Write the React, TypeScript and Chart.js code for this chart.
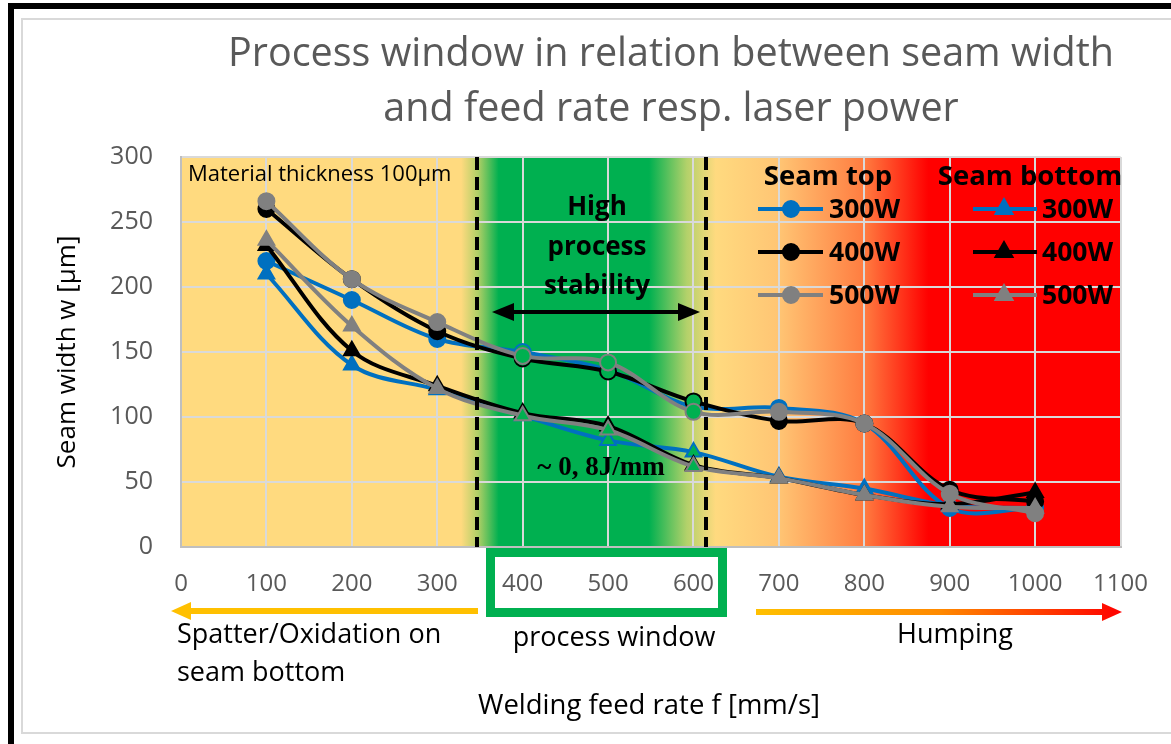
import React, { useEffect, useRef } from "react";
import { Chart, registerables } from "chart.js";

Chart.register(...registerables);

// ---------- data ----------
const feedRates = [100, 200, 300, 400, 500, 600, 700, 800, 900, 1000];
const topW300 = [220, 190, 160, 150, 136, 108, 107, 95, 30, 30];
const topW400 = [260, 206, 166, 145, 135, 112, 97, 95, 44, 35];
const topW500 = [266, 206, 173, 147, 142, 104, 104, 95, 41, 26];
const bottomW300 = [210, 140, 121, 101, 82, 73, 54, 45, 32, 30];
const bottomW400 = [232, 151, 124, 103, 93, 63, 53, 40, 33, 42];
const bottomW500 = [236, 170, 122, 101, 90, 62, 53, 40, 31, 30];
const powerLabels = ["300W", "400W", "500W"];

const titleLines = ["Process window in relation between seam width", "and feed rate resp. laser power"];
const xAxisTitle = "Welding feed rate f [mm/s]";
const yAxisTitle = "Seam width w [µm]";
const windowLimits = [346, 615];

// ---------- styles ----------
const BLUE = "#0070C0";
const BLACK = "#000000";
const GRAY = "#808080";
const GREEN = "#00B050";
const YELLOW = "#FFDA7F";
const seriesColors = [BLUE, BLACK, GRAY];
const FONT = "'Open Sans', 'Noto Sans', sans-serif";

const toPts = (ys: number[]) => feedRates.map((x, i) => ({ x, y: ys[i] }));

function makeDataset(label: string, ys: number[], color: string, marker: string, order: number) {
  return {
    label,
    data: toPts(ys),
    borderColor: color,
    borderWidth: 4,
    tension: 0.35,
    pointStyle: marker,
    pointRadius: marker === "triangle" ? 9 : 8,
    pointBorderWidth: 2,
    pointBorderColor: color,
    pointBackgroundColor: (ctx: any) => {
      const x = feedRates[ctx.dataIndex];
      return x >= 400 && x <= 600 ? GREEN : color;
    },
    order,
  };
}

function drawMarker(ctx: CanvasRenderingContext2D, type: string, x: number, y: number, color: string) {
  ctx.save();
  ctx.fillStyle = color;
  ctx.strokeStyle = color;
  ctx.lineWidth = 2;
  ctx.beginPath();
  if (type === "circle") {
    ctx.arc(x, y, 8, 0, Math.PI * 2);
  } else {
    const r = 9;
    ctx.moveTo(x, y - r * 1.1);
    ctx.lineTo(x + r * 0.95, y + r * 0.55);
    ctx.lineTo(x - r * 0.95, y + r * 0.55);
    ctx.closePath();
  }
  ctx.fill();
  ctx.stroke();
  ctx.restore();
}

function drawArrowLine(ctx: CanvasRenderingContext2D, x1: number, x2: number, y: number, w: number, head: number, half: number, style: any, both = false) {
  ctx.save();
  ctx.strokeStyle = style;
  ctx.fillStyle = style;
  ctx.lineWidth = w;
  const dir = Math.sign(x2 - x1);
  ctx.beginPath();
  ctx.moveTo(both ? x1 + dir * head * 0.8 : x1, y);
  ctx.lineTo(x2 - dir * head * 0.8, y);
  ctx.stroke();
  const heads = both ? [[x2, dir], [x1, -dir]] : [[x2, dir]];
  for (const [tip, d] of heads) {
    ctx.beginPath();
    ctx.moveTo(tip, y);
    ctx.lineTo(tip - d * head, y - half);
    ctx.lineTo(tip - d * head, y + half);
    ctx.closePath();
    ctx.fill();
  }
  ctx.restore();
}

function text(ctx: CanvasRenderingContext2D, s: string, x: number, y: number, font: string, color: string, align: CanvasTextAlign = "center") {
  ctx.save();
  ctx.font = font;
  ctx.fillStyle = color;
  ctx.textAlign = align;
  ctx.textBaseline = "middle";
  ctx.fillText(s, x, y);
  ctx.restore();
}

const decorPlugin = {
  id: "decor",
  beforeDraw(chart: any) {
    const { ctx, chartArea: a, scales } = chart;
    const xs = scales.x;
    ctx.save();
    ctx.fillStyle = "#FFFFFF";
    ctx.fillRect(0, 0, chart.width, chart.height);
    // frames
    ctx.fillStyle = "#000000";
    ctx.fillRect(8, 3, chart.width - 8, 6);
    ctx.fillRect(8, 3, 6, chart.height - 3);
    ctx.strokeStyle = "#D9D9D9";
    ctx.lineWidth = 2;
    ctx.beginPath();
    ctx.moveTo(chart.width, 19);
    ctx.lineTo(22, 19);
    ctx.lineTo(22, 733);
    ctx.lineTo(chart.width, 733);
    ctx.stroke();
    // background zones
    const g = ctx.createLinearGradient(a.left, 0, a.right, 0);
    const stop = (v: number, c: string) => {
      const t = (xs.getPixelForValue(v) - a.left) / (a.right - a.left);
      g.addColorStop(Math.min(1, Math.max(0, t)), c);
    };
    stop(0, YELLOW);
    stop(328, YELLOW);
    stop(348, "#AFCF66");
    stop(372, GREEN);
    stop(548, GREEN);
    stop(592, "#B2D16A");
    stop(626, YELLOW);
    stop(700, "#FFC574");
    stop(800, "#FF7C40");
    stop(875, "#FF0000");
    stop(1100, "#FF0000");
    ctx.fillStyle = g;
    ctx.fillRect(a.left, a.top, a.right - a.left, a.bottom - a.top);
    ctx.restore();
  },
  afterDatasetsDraw(chart: any) {
    const { ctx, chartArea: a, scales } = chart;
    const xs = scales.x;
    // dashed limits
    ctx.save();
    ctx.strokeStyle = "#000";
    ctx.lineWidth = 4;
    ctx.setLineDash([13, 7]);
    for (const v of windowLimits) {
      const px = Math.round(xs.getPixelForValue(v));
      ctx.beginPath();
      ctx.moveTo(px, a.top);
      ctx.lineTo(px, a.bottom);
      ctx.stroke();
    }
    ctx.restore();

    // title
    text(ctx, titleLines[0], 671, 55, `39.5px ${FONT}`, "#595959");
    text(ctx, titleLines[1], 671, 110, `39.5px ${FONT}`, "#595959");

    // in-plot labels
    text(ctx, "Material thickness 100µm", 188, 175, `22px ${FONT}`, "#000", "left");
    text(ctx, "High", 597, 208, `bold 26px ${FONT}`, "#000");
    text(ctx, "process", 597, 248, `bold 26px ${FONT}`, "#000");
    text(ctx, "stability", 597, 287, `bold 26px ${FONT}`, "#000");
    drawArrowLine(ctx, 492, 700, 312, 4, 22, 9, "#000", true);
    text(ctx, "~ 0, 8J/mm", 601, 468, `bold 27px 'Liberation Serif', 'DejaVu Serif', serif`, "#000");

    // legend
    text(ctx, "Seam top", 828, 177, `bold 27.5px ${FONT}`, "#000");
    text(ctx, "Seam bottom", 1030, 177, `bold 27.5px ${FONT}`, "#000");
    const rows = [209, 252, 295];
    rows.forEach((ry, i) => {
      const c = seriesColors[i];
      for (const [l, r, m, tx, type] of [[758, 823, 791, 829, "circle"], [973, 1037, 1004, 1042, "triangle"]] as any) {
        ctx.save();
        ctx.strokeStyle = c;
        ctx.lineWidth = 4;
        ctx.beginPath();
        ctx.moveTo(l, ry);
        ctx.lineTo(r, ry);
        ctx.stroke();
        ctx.restore();
        drawMarker(ctx, type, m, ry, c);
        text(ctx, powerLabels[i], tx, ry + 1, `bold 26.5px ${FONT}`, "#000", "left");
      }
    });

    // below-axis annotations
    ctx.save();
    ctx.strokeStyle = GREEN;
    ctx.lineWidth = 9;
    ctx.strokeRect(490.5, 552.5, 232, 60);
    ctx.restore();

    drawArrowLine(ctx, 478, 171, 611, 6, 20, 9, "#FFC000");
    const rg = ctx.createLinearGradient(756, 0, 1122, 0);
    rg.addColorStop(0, "#FFC000");
    rg.addColorStop(0.5, "#FF8A00");
    rg.addColorStop(1, "#FF0000");
    drawArrowLine(ctx, 756, 1122, 612, 6, 20, 9, rg);

    const f = `27px ${FONT}`;
    text(ctx, "Spatter/Oxidation on", 177, 635, f, "#000", "left");
    text(ctx, "seam bottom", 177, 673, f, "#000", "left");
    text(ctx, "process window", 614, 638, f, "#000");
    text(ctx, "Humping", 955, 635, f, "#000");
    text(ctx, xAxisTitle, 649, 706, `27.5px ${FONT}`, "#000");

    ctx.save();
    ctx.translate(68, 352);
    ctx.rotate(-Math.PI / 2);
    text(ctx, yAxisTitle, 0, 0, `26px ${FONT}`, "#000");
    ctx.restore();
  },
};

export default function App() {
  const ref = useRef<HTMLCanvasElement>(null);
  useEffect(() => {
    if (!ref.current) return;
    const chart = new Chart(ref.current, {
      type: "line",
      data: {
        datasets: [
          makeDataset("Seam top 300W", topW300, BLUE, "circle", 4),
          makeDataset("Seam top 400W", topW400, BLACK, "circle", 2),
          makeDataset("Seam top 500W", topW500, GRAY, "circle", 0),
          makeDataset("Seam bottom 300W", bottomW300, BLUE, "triangle", 5),
          makeDataset("Seam bottom 400W", bottomW400, BLACK, "triangle", 3),
          makeDataset("Seam bottom 500W", bottomW500, GRAY, "triangle", 1),
        ] as any,
      },
      options: {
        responsive: false,
        animation: false,
        layout: { padding: { left: 0, top: 157, right: 46, bottom: 0 } },
        plugins: { legend: { display: false }, title: { display: false }, tooltip: { enabled: false } },
        scales: {
          x: {
            type: "linear",
            min: 0,
            max: 1100,
            ticks: {
              stepSize: 100,
              color: "#595959",
              font: { family: FONT, size: 24 },
              padding: 23,
              maxRotation: 0,
              callback: (v: any) => String(v),
            },
            grid: { color: "#D9D9D9", lineWidth: 2, drawTicks: false },
            border: { color: "#BFBFBF", width: 2 },
            afterFit: (s: any) => { s.height = 197; },
          },
          y: {
            min: 0,
            max: 300,
            ticks: { stepSize: 50, color: "#595959", font: { family: FONT, size: 25 }, padding: 28, callback: (v: any) => String(v) },
            grid: { color: "#D9D9D9", lineWidth: 2, drawTicks: false },
            border: { color: "#BFBFBF", width: 2 },
            afterFit: (s: any) => { s.width = 181; },
          },
        },
      },
      plugins: [decorPlugin],
    } as any);
    return () => chart.destroy();
  }, []);
  return (
    <div style={{ position: "fixed", left: 0, top: 0, width: 1171, height: 744, background: "#fff" }}>
      <canvas ref={ref} width={1171} height={744} style={{ display: "block", width: 1171, height: 744 }} />
    </div>
  );
}
